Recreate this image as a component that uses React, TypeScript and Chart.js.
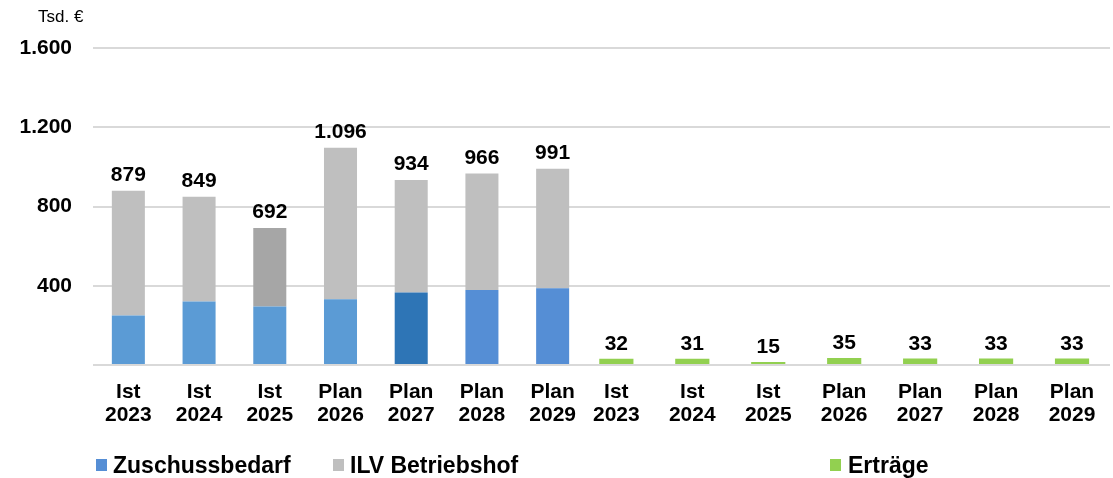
import React, { useEffect, useRef } from "react";
import { Chart, registerables } from "chart.js";

Chart.register(...registerables);

const categories: string[][] = [
  ["Ist", "2023"],
  ["Ist", "2024"],
  ["Ist", "2025"],
  ["Plan", "2026"],
  ["Plan", "2027"],
  ["Plan", "2028"],
  ["Plan", "2029"],
];
const zuschussbedarf = [250, 321, 295, 332, 366, 378, 387];
const ilvBetriebshof = [629, 528, 397, 764, 568, 588, 604];
const ertraege = [32, 31, 15, 35, 33, 33, 33];
const yMax = 1600;
const yStep = 400;

const zuschussColors = ["#5b9bd5", "#5b9bd5", "#5b9bd5", "#5b9bd5", "#2e75b6", "#558ed5", "#558ed5"];
const ilvColors = ["#bfbfbf", "#bfbfbf", "#a6a6a6", "#bfbfbf", "#bfbfbf", "#bfbfbf", "#bfbfbf"];
const ertraegeColor = "#92d050";

const FONT = "'Liberation Sans', Arial, sans-serif";
const GRID = "#d9d9d9";

const fmt = (n: number) => String(n).replace(/\B(?=(\d{3})+(?!\d))/g, ".");

function baseScales(showY: boolean) {
  return {
    x: {
      stacked: true,
      grid: { display: false, drawTicks: false },
      border: { display: false },
      ticks: {
        color: "#000",
        font: { family: FONT, size: 21, weight: "bold" as const, lineHeight: 1.1 },
        padding: 16,
        maxRotation: 0,
        autoSkip: false,
      },
      afterFit: (s: any) => {
        s.height = 113;
      },
    },
    y: {
      stacked: true,
      min: 0,
      max: yMax,
      grid: { color: GRID, lineWidth: 2, drawTicks: false },
      border: { display: false },
      ticks: {
        display: showY,
        stepSize: yStep,
        color: "#000",
        padding: 21,
        font: { family: FONT, size: 21, weight: "bold" as const },
        callback: (v: any) => (Number(v) === 0 ? "" : fmt(Number(v))),
      },
      afterFit: (s: any) => {
        s.width = showY ? 93 : 0;
      },
    },
  };
}

const leftLabels = {
  id: "leftLabels",
  afterDatasetsDraw(chart: any) {
    const ctx = chart.ctx;
    const meta = chart.getDatasetMeta(1);
    ctx.save();
    ctx.font = `bold 21px ${FONT}`;
    ctx.fillStyle = "#000";
    ctx.textAlign = "center";
    ctx.textBaseline = "bottom";
    meta.data.forEach((bar: any, i: number) => {
      const total = zuschussbedarf[i] + ilvBetriebshof[i];
      ctx.fillText(fmt(total), bar.x, bar.y - 5);
    });
    ctx.restore();
  },
};

const rightLabels = {
  id: "rightLabels",
  afterDatasetsDraw(chart: any) {
    const ctx = chart.ctx;
    const meta = chart.getDatasetMeta(0);
    ctx.save();
    ctx.font = `bold 21px ${FONT}`;
    ctx.fillStyle = "#000";
    ctx.textAlign = "center";
    ctx.textBaseline = "bottom";
    meta.data.forEach((bar: any, i: number) => {
      ctx.fillText(fmt(ertraege[i]), bar.x, bar.y - 4);
    });
    ctx.restore();
  },
};

export default function App() {
  const leftRef = useRef<HTMLCanvasElement>(null);
  const rightRef = useRef<HTMLCanvasElement>(null);

  useEffect(() => {
    const left = new Chart(leftRef.current!, {
      type: "bar",
      data: {
        labels: categories,
        datasets: [
          {
            label: "Zuschussbedarf",
            data: zuschussbedarf,
            backgroundColor: zuschussColors,
            categoryPercentage: 1,
            barPercentage: 0.467,
          },
          {
            label: "ILV Betriebshof",
            data: ilvBetriebshof,
            backgroundColor: ilvColors,
            categoryPercentage: 1,
            barPercentage: 0.467,
          },
        ],
      },
      options: {
        responsive: false,
        animation: false,
        layout: { padding: { top: 48, right: 12, left: 0, bottom: 0 } },
        plugins: { legend: { display: false }, tooltip: { enabled: false } },
        scales: baseScales(true) as any,
      },
      plugins: [leftLabels],
    });

    const right = new Chart(rightRef.current!, {
      type: "bar",
      data: {
        labels: categories,
        datasets: [
          {
            label: "Erträge",
            data: ertraege,
            backgroundColor: ertraegeColor,
            categoryPercentage: 1,
            barPercentage: 0.45,
          },
        ],
      },
      options: {
        responsive: false,
        animation: false,
        layout: { padding: { top: 48, right: 3, left: 0, bottom: 0 } },
        plugins: { legend: { display: false }, tooltip: { enabled: false } },
        scales: baseScales(false) as any,
      },
      plugins: [rightLabels],
    });

    return () => {
      left.destroy();
      right.destroy();
    };
  }, []);

  const legendText: React.CSSProperties = {
    position: "absolute",
    top: 452,
    fontFamily: FONT,
    fontWeight: "bold",
    fontSize: 23,
    lineHeight: "26px",
    color: "#000",
    whiteSpace: "nowrap",
  };
  const sq = (left: number, color: string): React.CSSProperties => ({
    position: "absolute",
    left,
    top: 459,
    width: 11,
    height: 12,
    background: color,
  });

  return (
    <div
      style={{
        position: "absolute",
        left: 0,
        top: 0,
        width: 1113,
        height: 478,
        background: "#fff",
        overflow: "hidden",
      }}
    >
      <canvas ref={leftRef} width={600} height={478} style={{ position: "absolute", left: 0, top: 0 }} />
      <canvas ref={rightRef} width={536} height={478} style={{ position: "absolute", left: 577, top: 0 }} />
      <div
        style={{
          position: "absolute",
          left: 38,
          top: 6,
          fontFamily: FONT,
          fontSize: 17,
          lineHeight: "22px",
          color: "#000",
        }}
      >
        Tsd. €
      </div>
      <div style={sq(96, "#558ed5")} />
      <div style={{ ...legendText, left: 113 }}>Zuschussbedarf</div>
      <div style={sq(333, "#bfbfbf")} />
      <div style={{ ...legendText, left: 350 }}>ILV Betriebshof</div>
      <div style={sq(830, ertraegeColor)} />
      <div style={{ ...legendText, left: 848 }}>Erträge</div>
    </div>
  );
}
